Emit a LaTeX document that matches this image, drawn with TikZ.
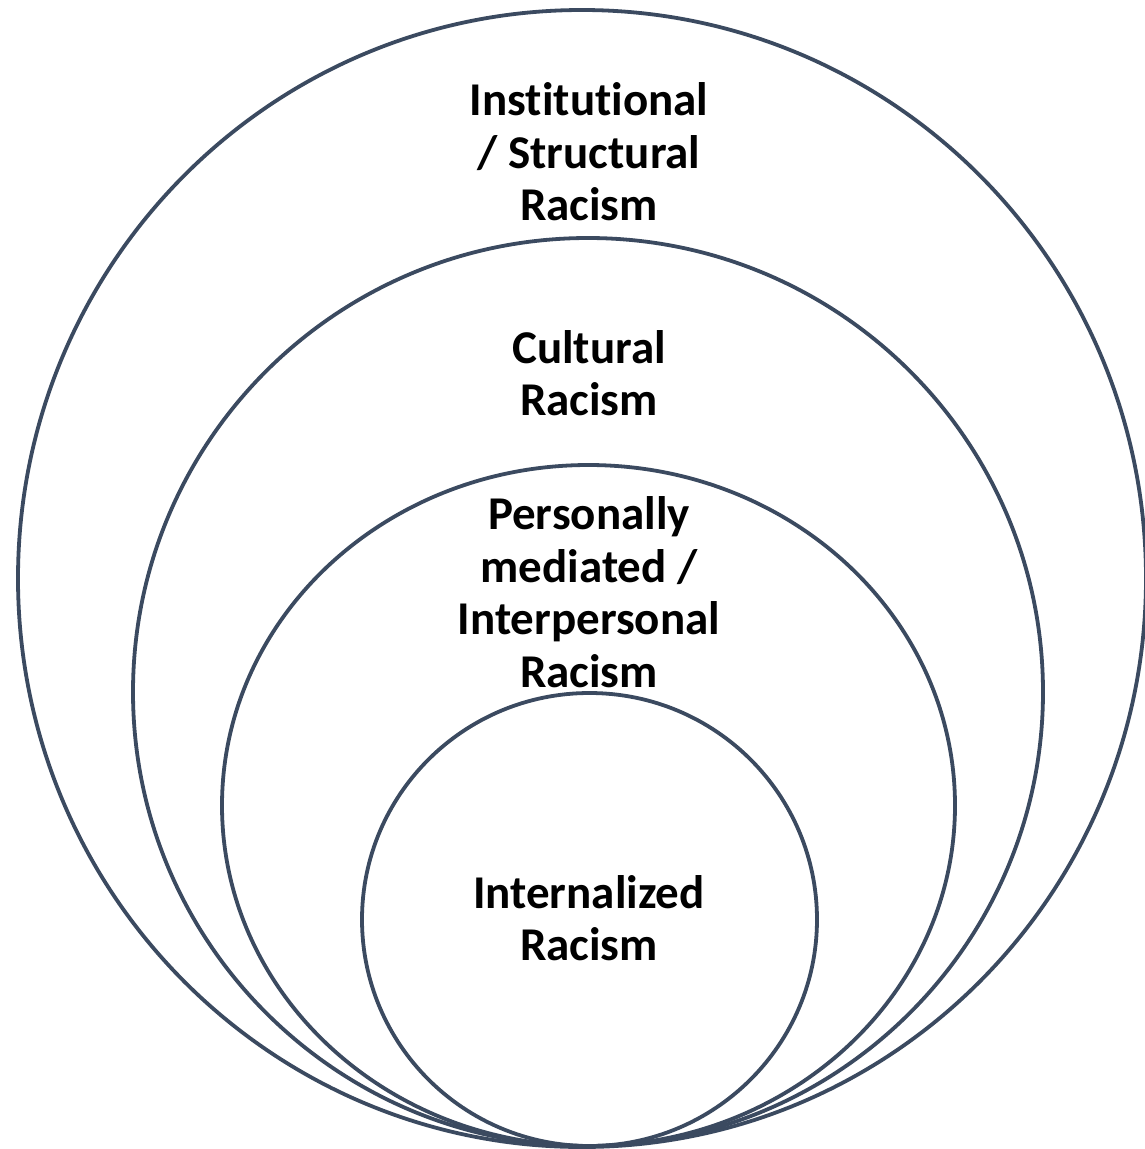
\documentclass[tikz,border=0pt]{standalone}
\usepackage{fontspec}
\setmainfont{Carlito}[Ligatures=NoCommon]
\newcommand\tiNoLig{t\kern0pt i}
\definecolor{ring}{RGB}{59,74,96}
\begin{document}
\begin{tikzpicture}[x=1pt,y=-1pt,
  ring/.style={draw=ring,line width=3.8pt},
  lbl/.style={align=center,font=\bfseries\fontsize{47}{52.5}\selectfont,inner sep=0pt}]
\useasboundingbox (0,0) rectangle (1145,1149);
\draw[ring] (582,578.5) ellipse [x radius=564,y radius=568.5];
\draw[ring] (588,692) ellipse [x radius=455,y radius=454];
\draw[ring] (588.5,805.5) ellipse [x radius=366.5,y radius=340.5];
\draw[ring] (589.5,919.5) ellipse [x radius=227.5,y radius=226.5];
\node[lbl] (inst) at (589,152) {Ins\tiNoLig tu\tiNoLig onal\\/ Structural\\Racism};
\node[lbl] (cult) at (589,373) {Cultural\\Racism};
\node[lbl] (pers) at (589,592) {Personally\\mediated /\\Interpersonal\\Racism};
\node[lbl] (intl) at (589,918) {Internalized\\Racism};
\end{tikzpicture}
\end{document}
